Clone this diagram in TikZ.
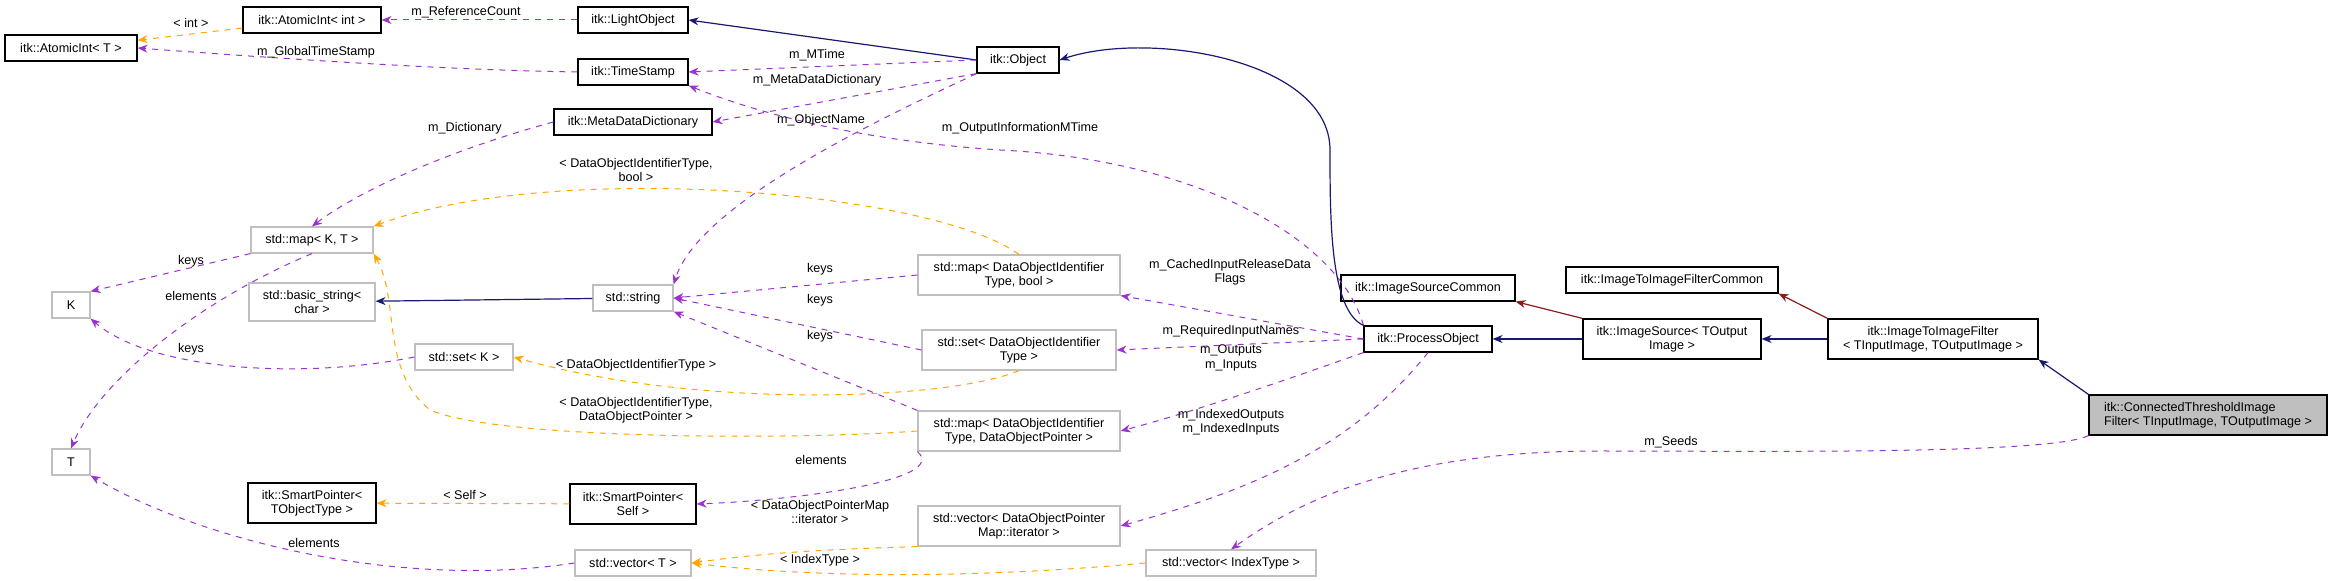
\documentclass[tikz,border=0pt]{standalone}
\usepackage{fontspec}
\setmainfont{Liberation Sans}
\usetikzlibrary{arrows.meta}
\definecolor{pu}{HTML}{9A32CD}
\definecolor{og}{HTML}{FFA500}
\definecolor{nv}{HTML}{191970}
\definecolor{fb}{HTML}{8B1A1A}
\definecolor{gb}{HTML}{BFBFBF}
\begin{document}
\begin{tikzpicture}[x=0.5pt,y=-0.5pt,
  font=\fontsize{6.3}{7.2}\selectfont,
  bx/.style={draw=black,fill=white,line width=0.6pt,inner sep=1pt,align=center,minimum height=13pt},
  gx/.style={draw=gb,fill=white,line width=0.6pt,inner sep=1pt,align=center,minimum height=13pt},
  tip/.style={-{Stealth[length=5pt,width=4pt]}},
  pe/.style={tip,draw=pu,dashed,line width=0.5pt},
  oe/.style={tip,draw=og,dashed,line width=0.5pt},
  ne/.style={tip,draw=nv,line width=0.6pt},
  fe/.style={tip,draw=fb,line width=0.6pt},
  lb/.style={align=center,inner sep=0pt}]
\useasboundingbox (0,0) rectangle (2332,581);
% nodes
\node[bx,minimum width=66pt] (ait) at (71,48) {itk::AtomicInt< T >};
\node[bx,minimum width=69pt] (aint) at (312,20) {itk::AtomicInt< int >};
\node[bx,minimum width=55pt] (light) at (633,20) {itk::LightObject};
\node[bx,minimum width=55pt] (ts) at (633,72) {itk::TimeStamp};
\node[bx,minimum width=79pt] (mdd) at (633,122) {itk::MetaDataDictionary};
\node[bx,minimum width=41pt] (obj) at (1018,60) {itk::Object};
\node[gx,minimum width=61pt] (mapKT) at (312,240) {std::map< K, T >};
\node[gx,minimum width=63pt,minimum height=19pt] (bstr) at (312,302) {std::basic\_string<\\char >};
\node[gx,minimum width=19pt] (K) at (71,305) {K};
\node[gx,minimum width=40pt] (str) at (633,298) {std::string};
\node[gx,minimum width=49pt] (setK) at (464,357) {std::set< K >};
\node[gx,minimum width=19pt] (T) at (71,462) {T};
\node[bx,minimum width=64pt,minimum height=20pt] (spT) at (312,503) {itk::SmartPointer<\\TObjectType >};
\node[bx,minimum width=63pt,minimum height=20pt] (spS) at (633,504) {itk::SmartPointer<\\Self >};
\node[gx,minimum width=58pt] (vecT) at (633,563) {std::vector< T >};
\node[gx,minimum width=101pt,minimum height=20pt] (mapB) at (1019,275) {std::map< DataObjectIdentifier\\Type, bool >};
\node[gx,minimum width=97pt,minimum height=20pt] (setD) at (1019,350) {std::set< DataObjectIdentifier\\Type >};
\node[gx,minimum width=101pt,minimum height=20pt] (mapP) at (1019,431) {std::map< DataObjectIdentifier\\Type, DataObjectPointer >};
\node[gx,minimum width=101pt,minimum height=20pt] (vecI) at (1019,526) {std::vector< DataObjectPointer\\Map::iterator >};
\node[gx,minimum width=85pt] (vecX) at (1231,563) {std::vector< IndexType >};
\node[bx,minimum width=64pt] (po) at (1428,339) {itk::ProcessObject};
\node[bx,minimum width=87pt] (isc) at (1428,288) {itk::ImageSourceCommon};
\node[bx,minimum width=89pt,minimum height=20pt] (is) at (1672,339) {itk::ImageSource< TOutput\\Image >};
\node[bx,minimum width=106pt] (itic) at (1672,280) {itk::ImageToImageFilterCommon};
\node[bx,minimum width=105pt,minimum height=20pt] (itif) at (1933,339) {itk::ImageToImageFilter\\< TInputImage, TOutputImage >};
\node[bx,fill=gb,minimum width=119pt,minimum height=20pt,align=left] (cti) at (2208,415) {itk::ConnectedThresholdImage\\Filter< TInputImage, TOutputImage >};
% edges
\draw[oe] (aint) -- (ait);
\draw[pe] (light) -- (aint);
\draw[pe] (ts.west) .. controls (450,70) and (300,60) .. (ait.east);
\draw[ne] (obj.west) -- (light.east);
\draw[pe] (obj.west) -- (ts.east);
\draw[pe] (obj.south west) -- (mdd.east);
\draw[pe] (obj.south west) .. controls (900,110) and (700,200) .. (str.north east);
\draw[pe] (po.north west) .. controls (1340,240) and (1200,160) .. (1000,150) .. controls (850,140) and (750,110) .. (ts.south east);
\draw[ne] (po.north west) .. controls (1330,310) and (1330,220) .. (1330,150) .. controls (1330,60) and (1150,30) .. (obj.east);
\draw[pe] (mdd.west) .. controls (450,150) and (360,190) .. (mapKT.north);
\draw[oe] (mapB.north) .. controls (930,190) and (550,160) .. (mapKT.north east);
\draw[pe] (mapKT.south west) -- (K.north east);
\draw[pe] (mapKT.south) .. controls (200,300) and (100,380) .. (T.north);
\draw[pe] (setK.west) .. controls (300,380) and (150,370) .. (K.south east);
\draw[oe] (setD.south) .. controls (950,400) and (700,410) .. (setK.east);
\draw[oe] (mapP.west) .. controls (800,440) and (500,440) .. (430,410) .. controls (380,370) and (400,300) .. (mapKT.south east);
\draw[ne] (str) -- (bstr);
\draw[pe] (mapB.west) -- (str.east);
\draw[pe] (setD.west) -- (str.east);
\draw[pe] (mapP.north west) -- (str.south east);
\draw[pe] (mapP.south west) .. controls (950,480) and (800,500) .. (spS.east);
\draw[oe] (spS) -- (spT);
\draw[pe] (vecT.west) .. controls (400,590) and (200,540) .. (T.south east);
\draw[oe] (vecI.south west) .. controls (800,550) and (750,555) .. (vecT.east);
\draw[oe] (vecX.west) .. controls (900,585) and (750,570) .. (vecT.east);
\draw[pe] (po.west) -- (mapB.south east);
\draw[pe] (po.west) -- (setD.east);
\draw[pe] (po.south west) .. controls (1300,375) and (1200,410) .. (mapP.east);
\draw[pe] (po.south) .. controls (1350,450) and (1250,490) .. (vecI.east);
\draw[ne] (is) -- (po);
\draw[fe] (is.north west) -- (isc.south east);
\draw[ne] (itif) -- (is);
\draw[fe] (itif.north west) -- (itic.south east);
\draw[ne] (cti.north west) -- (itif.south east);
\draw[pe] (cti.south west) .. controls (2050,455) and (1750,451) .. (1600,451) .. controls (1400,451) and (1300,500) .. (vecX.north);
% labels
\node[lb] (l1) at (191,23) {< int >};
\node[lb] (l2) at (466,12) {m\_ReferenceCount};
\node[lb] (l3) at (316,52) {m\_GlobalTimeStamp};
\node[lb] (l4) at (817,55) {m\_MTime};
\node[lb] (l5) at (817,80) {m\_MetaDataDictionary};
\node[lb] (l6) at (821,120) {m\_ObjectName};
\node[lb] (l7) at (1020,128) {m\_OutputInformationMTime};
\node[lb] (l8) at (465,128) {m\_Dictionary};
\node[lb] (l9) at (636,170) {< DataObjectIdentifierType,\\bool >};
\node[lb] (l10) at (191,261) {keys};
\node[lb] (l11) at (191,296) {elements};
\node[lb] (l12) at (191,349) {keys};
\node[lb] (l13) at (636,365) {< DataObjectIdentifierType >};
\node[lb] (l14) at (636,410) {< DataObjectIdentifierType,\\DataObjectPointer >};
\node[lb] (l15) at (820,269) {keys};
\node[lb] (l16) at (820,300) {keys};
\node[lb] (l17) at (820,336) {keys};
\node[lb] (l18) at (821,460) {elements};
\node[lb] (l19) at (465,495) {< Self >};
\node[lb] (l20) at (314,543) {elements};
\node[lb] (l21) at (820,512) {< DataObjectPointerMap\\::iterator >};
\node[lb] (l22) at (820,560) {< IndexType >};
\node[lb] (l23) at (1230,272) {m\_CachedInputReleaseData\\Flags};
\node[lb] (l24) at (1231,331) {m\_RequiredInputNames};
\node[lb] (l25) at (1231,358) {m\_Outputs\\m\_Inputs};
\node[lb] (l26) at (1231,422) {m\_IndexedOutputs\\m\_IndexedInputs};
\node[lb] (l27) at (1671,442) {m\_Seeds};
\end{tikzpicture}
\end{document}
